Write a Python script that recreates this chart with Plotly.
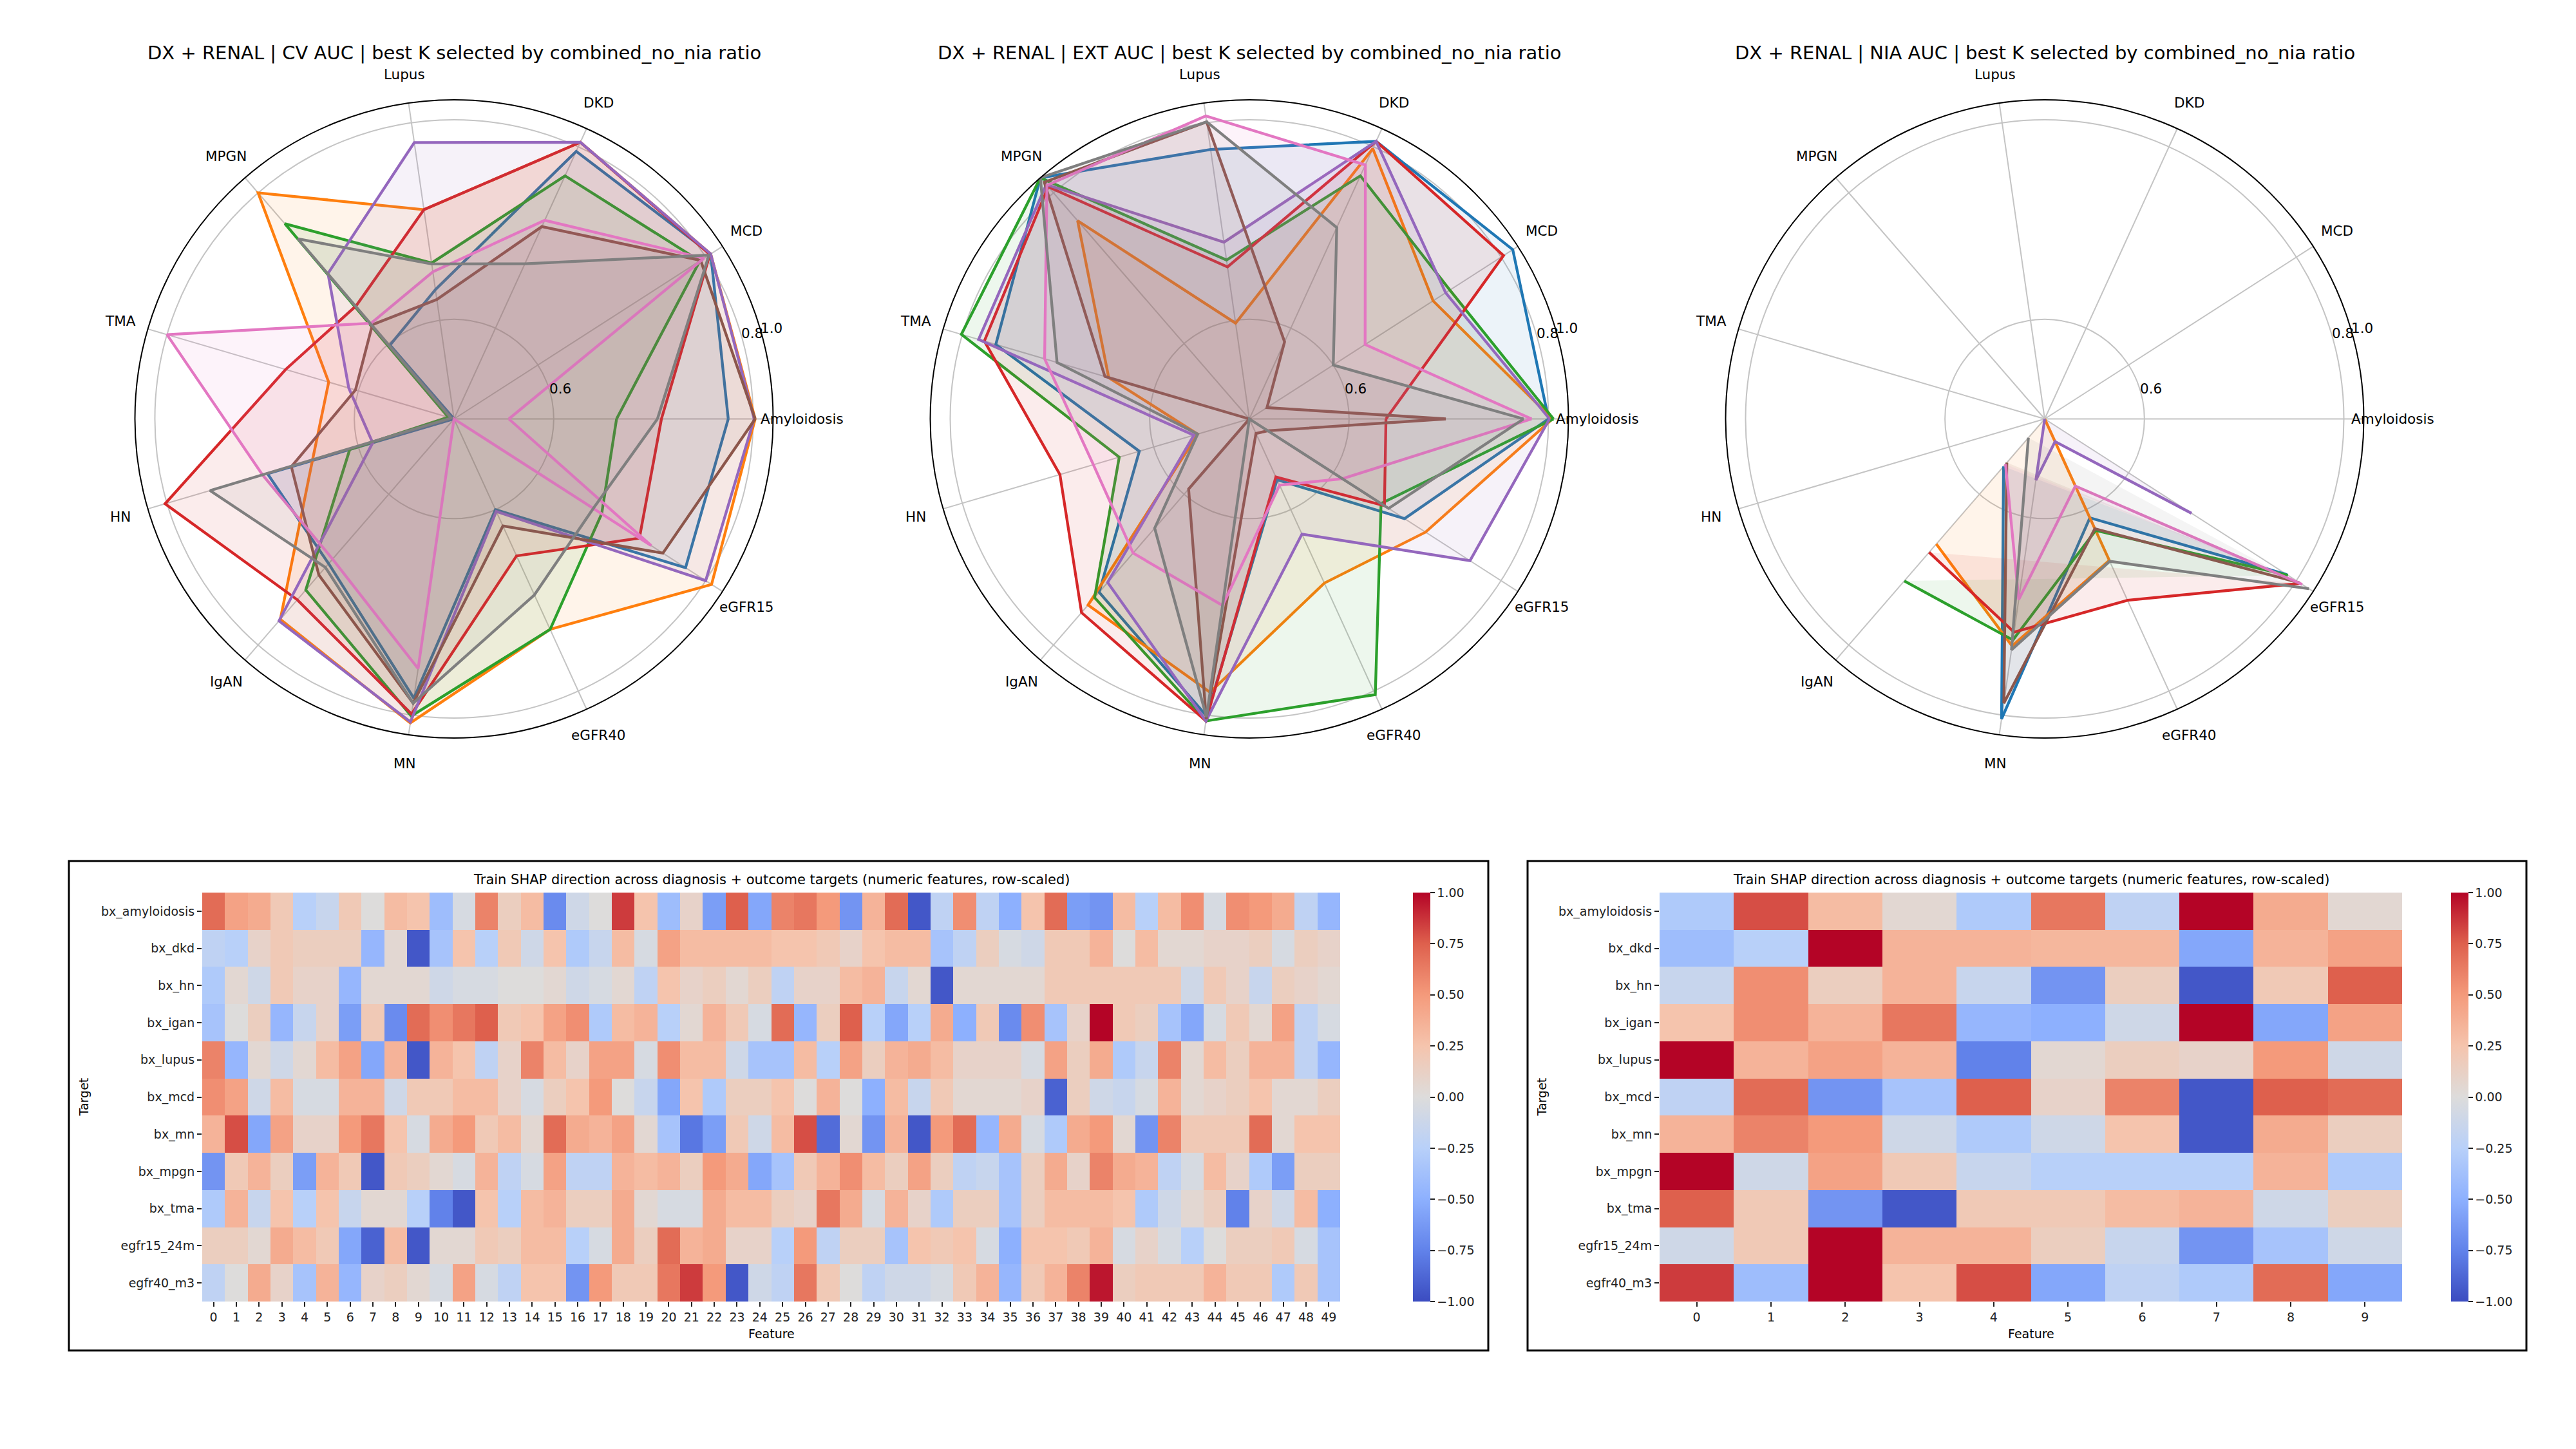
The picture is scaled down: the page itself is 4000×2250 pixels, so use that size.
import math
import plotly.graph_objects as go

# ---------------- radar data ----------------
categories = ["Amyloidosis", "MCD", "DKD", "Lupus", "MPGN", "TMA", "HN", "IgAN", "MN", "eGFR40", "eGFR15"]
series_names = ["config 1", "config 2", "config 3", "config 4", "config 5", "config 6", "config 7", "config 8"]
series_colors = ["#1f77b4", "#ff7f0e", "#2ca02c", "#d62728", "#9467bd", "#8c564b", "#e377c2", "#7f7f7f"]

cv_auc = [
    [0.775, 0.806, 0.795, 0.631, 0.598, 0.500, 0.695, 0.692, 0.783, 0.600, 0.776],
    [0.802, 0.806, 0.805, 0.712, 0.800, 0.631, 0.648, 0.766, 0.808, 0.732, 0.807],
    [0.663, 0.793, 0.768, 0.658, 0.759, 0.506, 0.609, 0.727, 0.801, 0.732, 0.676],
    [0.708, 0.805, 0.805, 0.712, 0.650, 0.676, 0.802, 0.740, 0.799, 0.651, 0.721],
    [0.801, 0.806, 0.805, 0.780, 0.693, 0.610, 0.585, 0.768, 0.807, 0.602, 0.800],
    [0.802, 0.794, 0.712, 0.621, 0.625, 0.603, 0.670, 0.707, 0.788, 0.618, 0.749],
    [0.555, 0.798, 0.719, 0.649, 0.627, 0.800, 0.700, 0.686, 0.753, 0.500, 0.735],
    [0.704, 0.804, 0.671, 0.657, 0.739, 0.503, 0.755, 0.697, 0.788, 0.694, 0.666],
]

ext_auc = [
    [0.800, 0.814, 0.806, 0.773, 0.820, 0.765, 0.615, 0.730, 0.801, 0.567, 0.685],
    [0.804, 0.719, 0.798, 0.597, 0.763, 0.647, 0.554, 0.747, 0.777, 0.681, 0.710],
    [0.805, 0.739, 0.768, 0.661, 0.820, 0.801, 0.636, 0.737, 0.806, 0.804, 0.657],
    [0.637, 0.803, 0.806, 0.654, 0.808, 0.777, 0.698, 0.757, 0.806, 0.564, 0.661],
    [0.801, 0.734, 0.806, 0.679, 0.811, 0.783, 0.558, 0.717, 0.806, 0.627, 0.763],
    [0.697, 0.521, 0.585, 0.801, 0.814, 0.651, 0.500, 0.593, 0.804, 0.516, 0.522],
    [0.783, 0.638, 0.780, 0.807, 0.810, 0.714, 0.663, 0.678, 0.689, 0.573, 0.611],
    [0.775, 0.600, 0.711, 0.801, 0.820, 0.701, 0.554, 0.645, 0.802, 0.500, 0.666],
]

N = None
nia_auc = [
    [N, N, N, N, N, N, N, 0.563, 0.804, 0.609, 0.789],
    [N, N, N, N, N, N, N, 0.666, 0.730, 0.656, 0.500],
    [N, N, N, N, N, N, N, 0.715, 0.724, 0.623, 0.790],
    [N, N, N, N, N, N, N, 0.677, 0.716, 0.700, 0.805],
    [N, N, N, N, N, N, N, 0.500, 0.562, 0.525, 0.675],
    [N, N, N, N, N, N, N, 0.558, 0.788, 0.621, 0.804],
    [N, N, N, N, N, N, N, 0.560, 0.683, 0.574, 0.807],
    [N, N, N, N, N, N, N, 0.525, 0.734, 0.657, 0.815],
]

radar_titles = [
    "DX + RENAL | CV AUC | best K selected by combined_no_nia ratio",
    "DX + RENAL | EXT AUC | best K selected by combined_no_nia ratio",
    "DX + RENAL | NIA AUC | best K selected by combined_no_nia ratio",
]
radial_range = [0.5, 0.82]
radial_tick_vals = [0.6, 0.8, 0.82]
radial_tick_text = ["0.6", "0.8", "1.0"]

# ---------------- heatmap data ----------------
targets = ["bx_amyloidosis", "bx_dkd", "bx_hn", "bx_igan", "bx_lupus", "bx_mcd",
           "bx_mn", "bx_mpgn", "bx_tma", "egfr15_24m", "egfr40_m3"]
features_left = list(range(50))
features_right = list(range(10))

shap_left = [
    [0.7, 0.45, 0.4, 0.2, -0.25, -0.15, 0.2, 0.0, 0.3, 0.25, -0.4, -0.05, 0.6, 0.15, 0.3, -0.7, -0.1, 0.0, 0.85, 0.25,
     -0.4, 0.1, -0.6, 0.75, -0.55, 0.6, 0.65, 0.5, -0.65, 0.35, 0.7, -0.95, -0.2, 0.55, -0.2, -0.5, 0.25, 0.7, -0.6, -0.65,
     0.3, -0.25, 0.3, 0.55, -0.05, 0.55, 0.5, 0.4, -0.2, -0.45],
    [-0.2, -0.25, 0.1, 0.2, 0.15, 0.15, 0.15, -0.45, 0.05, -0.95, -0.35, 0.25, -0.25, 0.2, -0.1, 0.25, -0.3, -0.15, 0.3, -0.05,
     0.45, 0.3, 0.3, 0.3, 0.3, 0.25, 0.25, 0.2, 0.1, 0.25, 0.3, 0.3, -0.35, -0.2, 0.15, -0.05, -0.1, 0.2, 0.2, 0.35,
     0.0, 0.3, 0.05, 0.05, 0.1, 0.1, 0.15, -0.05, 0.15, 0.1],
    [-0.3, 0.05, -0.1, 0.2, 0.1, 0.1, -0.45, 0.05, 0.05, 0.05, -0.1, -0.05, -0.05, 0.0, 0.0, 0.05, -0.1, -0.05, 0.05, -0.2,
     0.25, 0.1, 0.15, 0.05, 0.15, -0.2, 0.1, 0.1, 0.3, 0.35, -0.15, 0.05, -0.95, 0.05, 0.05, 0.05, 0.05, 0.2, 0.2, 0.2,
     0.2, 0.2, 0.2, -0.1, 0.2, 0.1, -0.15, 0.15, 0.1, 0.05],
    [-0.35, 0.0, 0.15, -0.45, -0.15, 0.1, -0.6, 0.2, -0.7, 0.7, 0.55, 0.65, 0.75, 0.2, 0.25, 0.45, 0.55, -0.3, 0.3, 0.35,
     -0.25, 0.05, 0.35, 0.2, -0.05, 0.7, -0.45, 0.15, 0.75, -0.25, -0.55, -0.25, 0.4, -0.5, 0.2, -0.7, 0.55, -0.35, 0.1, 1.0,
     0.2, 0.15, -0.35, -0.55, -0.05, 0.2, 0.05, 0.45, -0.2, -0.05],
    [0.6, -0.45, 0.05, -0.1, 0.05, 0.3, 0.45, -0.55, 0.35, -0.95, 0.35, 0.25, -0.2, 0.1, 0.6, 0.3, 0.1, 0.45, 0.45, -0.05,
     0.55, 0.3, 0.3, -0.1, -0.35, -0.35, 0.3, -0.25, 0.45, 0.15, 0.35, 0.4, 0.3, 0.1, 0.1, 0.1, -0.05, 0.45, 0.15, 0.4,
     -0.3, -0.15, 0.6, 0.05, 0.3, 0.15, 0.35, 0.35, -0.2, -0.45],
    [0.55, 0.45, -0.1, 0.3, -0.05, -0.05, 0.35, 0.35, -0.1, 0.2, 0.2, 0.3, 0.3, 0.1, -0.05, 0.15, 0.25, 0.5, 0.0, -0.15,
     -0.55, 0.25, -0.3, 0.15, 0.15, 0.25, 0.0, 0.35, 0.0, -0.5, 0.3, -0.15, 0.2, 0.05, 0.05, 0.05, 0.1, -0.9, 0.15, -0.1,
     -0.15, -0.05, 0.35, 0.05, 0.1, 0.15, 0.25, 0.05, 0.05, 0.15],
    [0.35, 0.8, -0.55, 0.45, 0.1, 0.1, 0.5, 0.65, 0.25, -0.05, 0.4, 0.5, 0.2, 0.3, 0.05, 0.7, 0.4, 0.35, 0.45, 0.05,
     -0.35, -0.8, -0.6, 0.2, -0.1, 0.3, 0.8, -0.85, 0.05, -0.65, 0.35, -0.95, 0.5, 0.7, -0.45, 0.4, -0.05, -0.3, 0.4, 0.5,
     0.05, -0.65, 0.6, 0.2, 0.2, 0.2, 0.7, 0.05, 0.25, 0.25],
    [-0.65, 0.2, 0.35, 0.15, -0.6, 0.35, 0.2, -0.95, 0.2, 0.15, 0.05, -0.05, 0.35, -0.2, -0.05, 0.45, -0.2, -0.2, 0.35, 0.3,
     0.35, 0.15, 0.5, 0.4, -0.55, -0.35, 0.2, 0.35, 0.55, 0.3, 0.15, 0.45, 0.15, -0.2, -0.15, -0.35, 0.15, 0.4, 0.1, 0.6,
     0.4, 0.35, -0.2, -0.05, 0.3, 0.1, -0.3, -0.6, 0.15, 0.15],
    [-0.3, 0.35, -0.15, 0.25, -0.25, 0.25, -0.15, 0.05, 0.05, -0.25, -0.75, -0.95, 0.25, -0.25, 0.3, 0.35, 0.15, 0.15, 0.4, 0.05,
     -0.05, -0.05, 0.4, 0.3, 0.3, 0.15, 0.1, 0.65, 0.4, -0.05, 0.35, 0.1, -0.3, 0.15, 0.15, -0.35, 0.15, 0.3, 0.3, 0.3,
     0.25, -0.3, -0.1, 0.05, 0.15, -0.75, 0.1, -0.1, 0.3, -0.5],
    [0.15, 0.15, 0.05, 0.4, 0.3, 0.2, -0.55, -0.9, 0.3, -0.95, 0.05, 0.05, 0.2, 0.15, 0.3, 0.3, -0.25, -0.05, 0.4, 0.15,
     0.7, 0.35, 0.4, 0.1, 0.1, -0.25, 0.5, -0.2, 0.15, 0.15, -0.35, 0.25, 0.2, 0.25, -0.05, -0.5, 0.25, 0.25, 0.2, 0.35,
     -0.05, 0.1, -0.05, -0.25, 0.0, 0.15, 0.15, 0.2, -0.05, -0.35],
    [-0.2, 0.0, 0.4, 0.1, -0.35, 0.35, -0.45, 0.1, 0.15, 0.05, -0.05, 0.45, -0.05, -0.2, 0.25, 0.25, -0.65, 0.5, 0.2, 0.2,
     0.65, 0.85, 0.5, -0.95, -0.1, -0.2, 0.65, 0.2, 0.0, -0.2, -0.1, -0.1, -0.05, 0.2, 0.35, -0.45, 0.2, 0.35, 0.6, 0.95,
     0.15, 0.2, 0.2, 0.2, 0.35, 0.2, 0.2, -0.3, 0.2, -0.35],
]

shap_right = [
    [-0.3, 0.8, 0.3, 0.05, -0.3, 0.65, -0.2, 1.0, 0.4, 0.05],
    [-0.4, -0.25, 1.0, 0.35, 0.35, 0.33, 0.33, -0.55, 0.35, 0.45],
    [-0.15, 0.55, 0.15, 0.35, -0.15, -0.65, 0.15, -0.95, 0.2, 0.75],
    [0.25, 0.55, 0.35, 0.65, -0.45, -0.5, -0.1, 1.0, -0.55, 0.45],
    [1.0, 0.35, 0.45, 0.35, -0.75, 0.05, 0.15, 0.1, 0.5, -0.1],
    [-0.2, 0.7, -0.65, -0.35, 0.75, 0.1, 0.6, -0.95, 0.75, 0.7],
    [0.35, 0.6, 0.5, -0.1, -0.3, -0.1, 0.25, -0.95, 0.4, 0.15],
    [1.0, -0.1, 0.45, 0.2, -0.15, -0.25, -0.25, -0.25, 0.35, -0.3],
    [0.75, 0.2, -0.65, -0.95, 0.2, 0.2, 0.3, 0.35, -0.1, 0.15],
    [-0.1, 0.2, 1.0, 0.35, 0.35, 0.15, -0.15, -0.65, -0.35, -0.1],
    [0.85, -0.4, 1.0, 0.25, 0.8, -0.55, -0.2, -0.3, 0.7, -0.55],
]

heat_title = "Train SHAP direction across diagnosis + outcome targets (numeric features, row-scaled)"
cbar_vals = [-1.0, -0.75, -0.5, -0.25, 0.0, 0.25, 0.5, 0.75, 1.0]
cbar_text = ["\u22121.00", "\u22120.75", "\u22120.50", "\u22120.25", "0.00", "0.25", "0.50", "0.75", "1.00"]

coolwarm = [
    [0.000, "rgb(59,76,192)"], [0.125, "rgb(97,130,234)"], [0.250, "rgb(141,176,254)"],
    [0.375, "rgb(184,208,249)"], [0.500, "rgb(221,220,219)"], [0.625, "rgb(245,196,173)"],
    [0.750, "rgb(244,154,123)"], [0.875, "rgb(222,96,77)"], [1.000, "rgb(180,4,38)"],
]

FONT = "DejaVu Sans"
W, H = 4000, 2250


def rgba(hex_color, a):
    h = hex_color.lstrip("#")
    return "rgba(%d,%d,%d,%.3f)" % (int(h[0:2], 16), int(h[2:4], 16), int(h[4:6], 16), a)


fig = go.Figure()

radar_sets = [cv_auc, ext_auc, nia_auc]
centers_x = [705, 1940, 3175]
center_y = 650.5
R = 495.5

for k, data in enumerate(radar_sets):
    sub = "polar" if k == 0 else "polar%d" % (k + 1)
    for s, vals in enumerate(data):
        closed = vals[0] is not None
        r = list(vals) + ([vals[0]] if closed else [])
        th = categories + ([categories[0]] if closed else [])
        fig.add_trace(go.Scatterpolar(
            r=r, theta=th, subplot=sub, mode="lines", name=series_names[s],
            line=dict(color=series_colors[s], width=4.3),
            fill="toself", fillcolor=rgba(series_colors[s], 0.085),
            connectgaps=False, showlegend=False,
        ))

annotations = []


def paper_pt(cx, cy, r_px, ang_deg):
    a = math.radians(ang_deg)
    return (cx + r_px * math.cos(a)) / W, 1 - (cy - r_px * math.sin(a)) / H


for k in range(3):
    cx = centers_x[k]
    dom_x = [(cx - R) / W, (cx + R) / W]
    dom_y = [(H - center_y - R) / H, (H - center_y + R) / H]
    key = "polar" if k == 0 else "polar%d" % (k + 1)
    fig.update_layout({key: dict(
        domain=dict(x=dom_x, y=dom_y),
        bgcolor="white",
        angularaxis=dict(
            type="category", categoryorder="array", categoryarray=categories,
            rotation=0, direction="counterclockwise",
            showline=True, linecolor="black", linewidth=2,
            showgrid=True, gridcolor="#c4c4c4", gridwidth=1.8,
            ticks="", showticklabels=False,
        ),
        radialaxis=dict(
            range=radial_range, tickmode="array", tickvals=radial_tick_vals,
            showline=False, ticks="", showticklabels=False,
            showgrid=True, gridcolor="#c4c4c4", gridwidth=1.8,
        ),
    )})
    # category labels, centred on a ring just outside the frame (matplotlib style)
    for i, cat in enumerate(categories):
        px, py = paper_pt(cx, center_y, 540, i * 360.0 / len(categories))
        annotations.append(dict(text=cat, x=px, y=py, xref="paper", yref="paper", showarrow=False,
                                xanchor="center", yanchor="middle",
                                font=dict(family=FONT, size=21.5, color="black")))
    # radial tick labels
    for v, t in zip(radial_tick_vals, radial_tick_text):
        r_px = (v - radial_range[0]) / (radial_range[1] - radial_range[0]) * R + 17
        px, py = paper_pt(cx, center_y, r_px, 16)
        annotations.append(dict(text=t, x=px, y=py, xref="paper", yref="paper", showarrow=False,
                                xanchor="center", yanchor="middle",
                                font=dict(family=FONT, size=21.5, color="black")))

# ---------------- heatmaps ----------------
cb_common = dict(
    xanchor="left", xpad=0, ypad=0, y=1 - 1703.5 / H, yanchor="middle",
    len=(2021 - 1386) / H, lenmode="fraction", thickness=27, thicknessmode="pixels",
    outlinewidth=0, ticks="outside", ticklen=7, tickwidth=1.5, tickcolor="#222",
    tickmode="array", tickvals=cbar_vals, ticktext=cbar_text,
    tickfont=dict(family=FONT, size=19, color="#222"),
)

fig.add_trace(go.Heatmap(
    z=shap_left, x=features_left, y=targets, colorscale=coolwarm, zmin=-1, zmax=1,
    xaxis="x", yaxis="y", colorbar=dict(x=2194 / W, **cb_common), showscale=True,
))
fig.add_trace(go.Heatmap(
    z=shap_right, x=features_right, y=targets, colorscale=coolwarm, zmin=-1, zmax=1,
    xaxis="x2", yaxis="y2", colorbar=dict(x=3806 / W, **cb_common), showscale=True,
))

ax_common = dict(showgrid=False, zeroline=False, showline=False, ticks="outside", ticklen=7,
                 tickwidth=1.5, tickcolor="#222", tickfont=dict(family=FONT, size=19, color="#222"))
hm_y_dom = [1 - 2021 / H, 1 - 1386 / H]
fig.update_layout(
    xaxis=dict(domain=[314 / W, 2081 / W], anchor="y", tickmode="array", tickvals=features_left,
               range=[-0.5, 49.5], **ax_common),
    yaxis=dict(domain=hm_y_dom, anchor="x", autorange="reversed", **ax_common),
    xaxis2=dict(domain=[2577 / W, 3730 / W], anchor="y2", tickmode="array", tickvals=features_right,
                range=[-0.5, 9.5], **ax_common),
    yaxis2=dict(domain=hm_y_dom, anchor="x2", autorange="reversed", **ax_common),
)

for k in range(3):
    annotations.append(dict(text=radar_titles[k], x=centers_x[k] / W, y=1 - 82 / H, xref="paper", yref="paper",
                            showarrow=False, xanchor="center", yanchor="middle",
                            font=dict(family=FONT, size=29, color="black")))
for cx, tx in [((314 + 2081) / 2, 129), ((2577 + 3730) / 2, 2393)]:
    annotations.append(dict(text=heat_title, x=cx / W, y=1 - 1366 / H, xref="paper", yref="paper",
                            showarrow=False, xanchor="center", yanchor="middle",
                            font=dict(family=FONT, size=21, color="black")))
    annotations.append(dict(text="Feature", x=cx / W, y=1 - 2071 / H, xref="paper", yref="paper",
                            showarrow=False, xanchor="center", yanchor="middle",
                            font=dict(family=FONT, size=19, color="black")))
    annotations.append(dict(text="Target", x=tx / W, y=1 - 1703.5 / H, xref="paper", yref="paper",
                            showarrow=False, xanchor="center", yanchor="middle", textangle=-90,
                            font=dict(family=FONT, size=19, color="black")))

shapes = [
    dict(type="rect", xref="paper", yref="paper", x0=107 / W, x1=2311 / W, y0=1 - 2097 / H, y1=1 - 1337 / H,
         line=dict(color="black", width=3), fillcolor="rgba(0,0,0,0)"),
    dict(type="rect", xref="paper", yref="paper", x0=2372 / W, x1=3923 / W, y0=1 - 2097 / H, y1=1 - 1337 / H,
         line=dict(color="black", width=3), fillcolor="rgba(0,0,0,0)"),
]

fig.update_layout(
    width=W, height=H, margin=dict(l=0, r=0, t=0, b=0),
    paper_bgcolor="white", plot_bgcolor="white",
    font=dict(family=FONT, color="black"),
    showlegend=False, annotations=annotations, shapes=shapes,
)

fig.write_html("out.html")
